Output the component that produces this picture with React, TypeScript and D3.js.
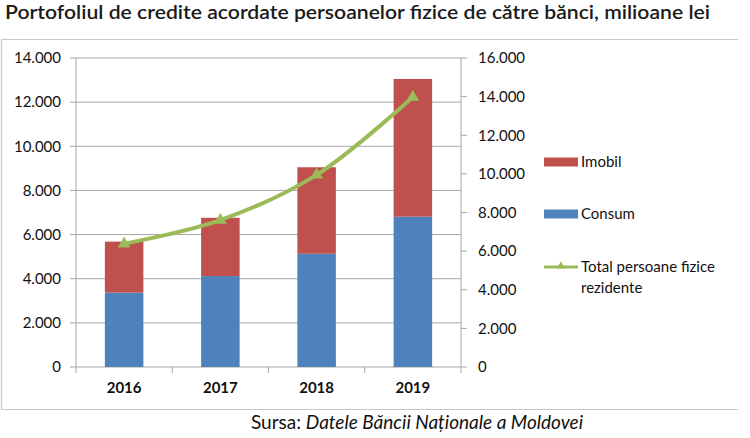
import { useMemo } from 'react';
import * as d3 from 'd3';

const years = ['2016', '2017', '2018', '2019'];
const consum = [3370, 4120, 5130, 6810];
const imobil = [2310, 2640, 3920, 6240];
const totalRezidente = [6380, 7610, 9950, 13980];

const leftTicks = [0, 2000, 4000, 6000, 8000, 10000, 12000, 14000];
const rightTicks = [0, 2000, 4000, 6000, 8000, 10000, 12000, 14000, 16000];

const W = 750;
const H = 438;
const PLOT = { left: 76, right: 461, top: 58, bottom: 367 };
const FONT = 'Lato, "Open Sans", sans-serif';
const BLUE = '#4f81bd';
const RED = '#c0504d';
const GREEN = '#9bbb59';
const GRID = '#a6a6a6';

const fmt = (v: number) => (v === 0 ? '0' : d3.format(',')(v).replace(/,/g, '.'));

export default function App() {
  const x = useMemo(
    () => d3.scaleBand<string>().domain(years).range([PLOT.left, PLOT.right]).paddingInner(0.6).paddingOuter(0.3),
    [],
  );
  const yL = useMemo(() => d3.scaleLinear().domain([0, 14000]).range([PLOT.bottom, PLOT.top]), []);
  const yR = useMemo(() => d3.scaleLinear().domain([0, 16000]).range([PLOT.bottom, PLOT.top]), []);

  const stacked = useMemo(() => {
    const rows = years.map((y, i) => ({ year: y, consum: consum[i], imobil: imobil[i] }));
    return d3.stack<{ year: string; consum: number; imobil: number }>().keys(['consum', 'imobil'])(rows);
  }, []);

  const linePath = useMemo(() => {
    const gen = d3
      .line<number>()
      .x((_, i) => (x(years[i]) ?? 0) + x.bandwidth() / 2)
      .y((d) => yR(d))
      .curve(d3.curveCatmullRom.alpha(0.5));
    return gen(totalRezidente) ?? '';
  }, [x, yR]);

  const tri = d3.symbol().type(d3.symbolTriangle).size(70)() ?? '';
  const step = x.step();
  const catTicks = [PLOT.left, ...years.map((y) => (x(y) ?? 0) + x.bandwidth() / 2 + step / 2)];

  return (
    <div style={{ position: 'absolute', left: 0, top: 0 }}>
      <svg width={W} height={H} style={{ display: 'block', background: '#fff' }} fontFamily={FONT}>
        <text
          x={5}
          y={19}
          fontSize={19}
          fontWeight={600}
          fill="#1a1a1a"
          textLength={705}
          lengthAdjust="spacingAndGlyphs"
        >
          Portofoliul de credite acordate persoanelor fizice de către bănci, milioane lei
        </text>

        {/* frame */}
        <path d={`M738,39.5H1.5V409.5H738`} fill="none" stroke="#c8c8c8" strokeWidth={1.2} />

        {/* grid */}
        {leftTicks.map((t) => (
          <line key={t} x1={PLOT.left - 6} x2={PLOT.right} y1={yL(t)} y2={yL(t)} stroke={GRID} strokeWidth={1} />
        ))}
        {leftTicks.map((t) => (
          <text key={`l${t}`} x={61} y={yL(t)} dy="0.35em" textAnchor="end" fontSize={15} fill="#111">
            {fmt(t)}
          </text>
        ))}

        {/* bars */}
        {stacked.map((s, si) =>
          s.map((d, i) => (
            <rect
              key={`${si}-${i}`}
              x={x(years[i])}
              y={yL(d[1])}
              width={x.bandwidth()}
              height={yL(d[0]) - yL(d[1])}
              fill={si === 0 ? BLUE : RED}
            />
          )),
        )}

        {/* axes lines */}
        <line x1={PLOT.left} x2={PLOT.left} y1={PLOT.top} y2={PLOT.bottom} stroke={GRID} />
        <line x1={PLOT.right} x2={PLOT.right} y1={PLOT.top} y2={PLOT.bottom} stroke={GRID} />
        {catTicks.map((cx, i) => (
          <line key={i} x1={cx} x2={cx} y1={PLOT.bottom} y2={PLOT.bottom + 6} stroke={GRID} />
        ))}
        {rightTicks.map((t) => (
          <g key={`r${t}`}>
            <line x1={PLOT.right} x2={PLOT.right + 6} y1={yR(t)} y2={yR(t)} stroke={GRID} />
            <text x={478} y={yR(t)} dy="0.35em" fontSize={15} fill="#111">
              {fmt(t)}
            </text>
          </g>
        ))}
        {years.map((y) => (
          <text
            key={y}
            x={(x(y) ?? 0) + x.bandwidth() / 2}
            y={393}
            textAnchor="middle"
            fontSize={15}
            fontWeight={700}
            fill="#111"
          >
            {y}
          </text>
        ))}

        {/* line */}
        <path d={linePath} fill="none" stroke={GREEN} strokeWidth={4} strokeLinejoin="round" />
        {totalRezidente.map((v, i) => (
          <path
            key={i}
            d={tri}
            transform={`translate(${(x(years[i]) ?? 0) + x.bandwidth() / 2},${yR(v)})`}
            fill={GREEN}
          />
        ))}

        {/* legend */}
        <rect x={544} y={157.5} width={34} height={9} fill={RED} />
        <text x={581} y={162} dy="0.35em" fontSize={15} fill="#111">Imobil</text>
        <rect x={544} y={209.5} width={34} height={9} fill={BLUE} />
        <text x={581} y={214} dy="0.35em" fontSize={15} fill="#111">Consum</text>
        <line x1={544} x2={578} y1={267} y2={267} stroke={GREEN} strokeWidth={3} />
        <path d={d3.symbol().type(d3.symbolTriangle).size(30)() ?? ''} transform="translate(561,266)" fill={GREEN} />
        <text x={581} y={267} dy="0.35em" fontSize={15} fill="#111">Total persoane fizice</text>
        <text x={581} y={288} dy="0.35em" fontSize={15} fill="#111">rezidente</text>

        {/* source */}
        <text x={417} y={429} textAnchor="middle" fontSize={19} fill="#111">
          Sursa: <tspan fontStyle="italic">Datele Băncii Naționale a Moldovei</tspan>
        </text>
      </svg>
    </div>
  );
}
